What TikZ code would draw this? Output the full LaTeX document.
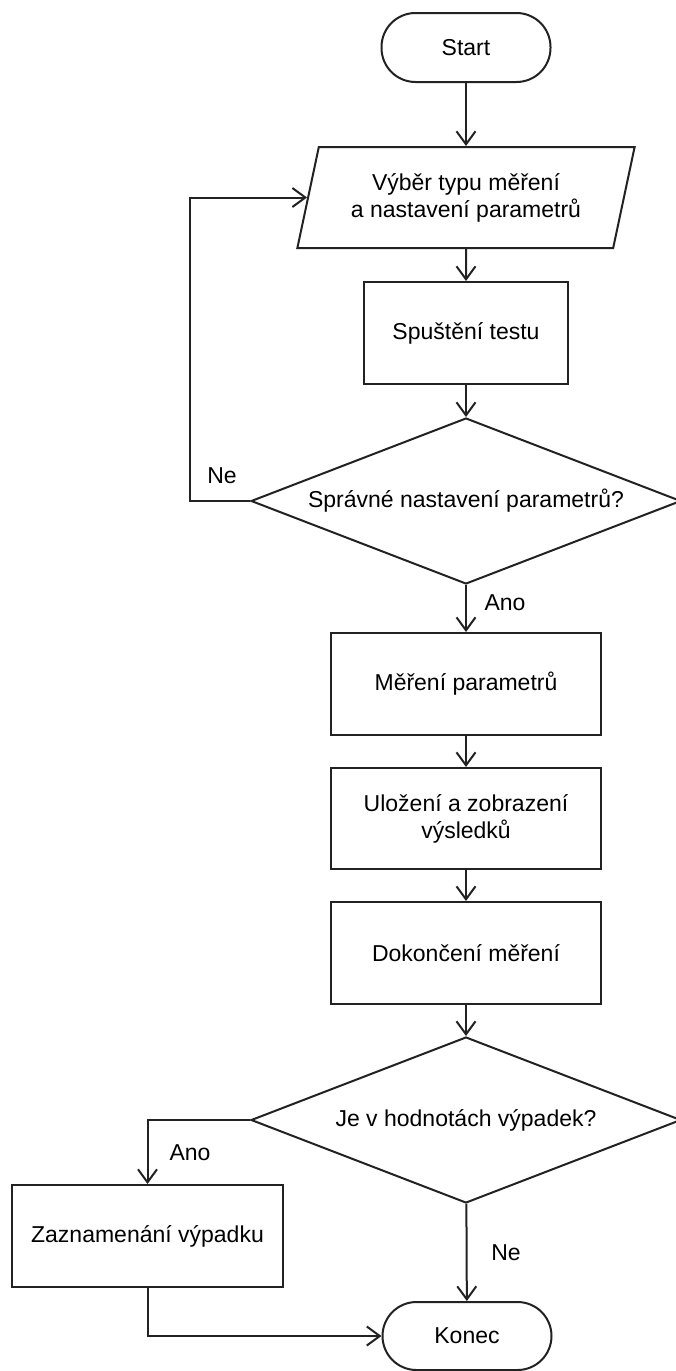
\documentclass[tikz,border=0pt]{standalone}
\usepackage{fontspec}
\setmainfont{Liberation Sans}
\usetikzlibrary{shapes.geometric, arrows.meta}
\definecolor{lineGray}{HTML}{222222}

\begin{document}
\begin{tikzpicture}[x=1pt, y=-1pt, font=\fontsize{23}{27}\selectfont]
		\tikzstyle{Terminal} = [rectangle, rounded corners=34pt, minimum width=169pt, minimum height=69pt, text centered, draw=lineGray, line width=2pt, fill=white]
		\tikzstyle{IOBox} = [trapezium, trapezium left angle=71, trapezium right angle=109, trapezium stretches=true, minimum width=338pt, minimum height=101pt, inner sep=0pt, align=center, draw=lineGray, line width=2pt, fill=white]
		\tikzstyle{Process} = [rectangle, minimum width=270pt, minimum height=102pt, inner sep=0pt, align=center, draw=lineGray, line width=2pt, fill=white]
		\tikzstyle{Decision} = [diamond, aspect=2.59, minimum width=430pt, minimum height=166pt, inner sep=0pt, text centered, draw=lineGray, line width=2pt, fill=white]
		\tikzstyle{arrow} = [draw=lineGray, line width=2pt, -{Straight Barb[length=13pt, width=19pt]}]
		
		%\draw[step=50,gray,very thin] (0,0) grid (676,1371);
		\useasboundingbox (0,0) rectangle (676,1371);
		
		\node (startNode) [Terminal] at (466,47.5) {Start};
		\node (inputNode) [IOBox] at (466,197.5) {Výběr typu měření\\a nastavení parametrů};
		\node (testNode) [Process, minimum width=204pt] at (466,333) {Spuštění testu};
		\node (checkNode) [Decision] at (466,501) {Správné nastavení parametrů?};
		\node (measureNode) [Process] at (466,684) {Měření parametrů};
		\node (saveNode) [Process, minimum height=101pt] at (466,818.5) {Uložení a zobrazení\\výsledků};
		\node (finishNode) [Process] at (466,953) {Dokončení měření};
		\node (dropNode) [Decision] at (466,1120) {Je v hodnotách výpadek?};
		\node (logNode) [Process, minimum width=271pt] at (147.5,1236) {Zaznamenání výpadku};
		\node (endNode) [Terminal, minimum height=68pt] at (467,1336) {Konec};
		
		\node (neLoop) at (222,476) {Ne};
		\node (anoCheck) at (505,603) {Ano};
		\node (anoDrop) at (190,1153) {Ano};
		\node (neDrop) at (506,1253) {Ne};
		
		\draw [arrow] (startNode) -- (inputNode);
		\draw [arrow] (inputNode) -- (testNode);
		\draw [arrow] (testNode) -- (checkNode);
		\draw [arrow] (checkNode.west) -- ++(-60,0) |- (inputNode);
		\draw [arrow] (checkNode) -- (measureNode);
		\draw [arrow] (measureNode) -- (saveNode);
		\draw [arrow] (saveNode) -- (finishNode);
		\draw [arrow] (finishNode) -- (dropNode);
		\draw [arrow] (dropNode.west) -| (logNode.north);
		\draw [arrow] (dropNode) -- (endNode);
		\draw [arrow] (logNode.south) |- (endNode);
		\end{tikzpicture}
\end{document}
